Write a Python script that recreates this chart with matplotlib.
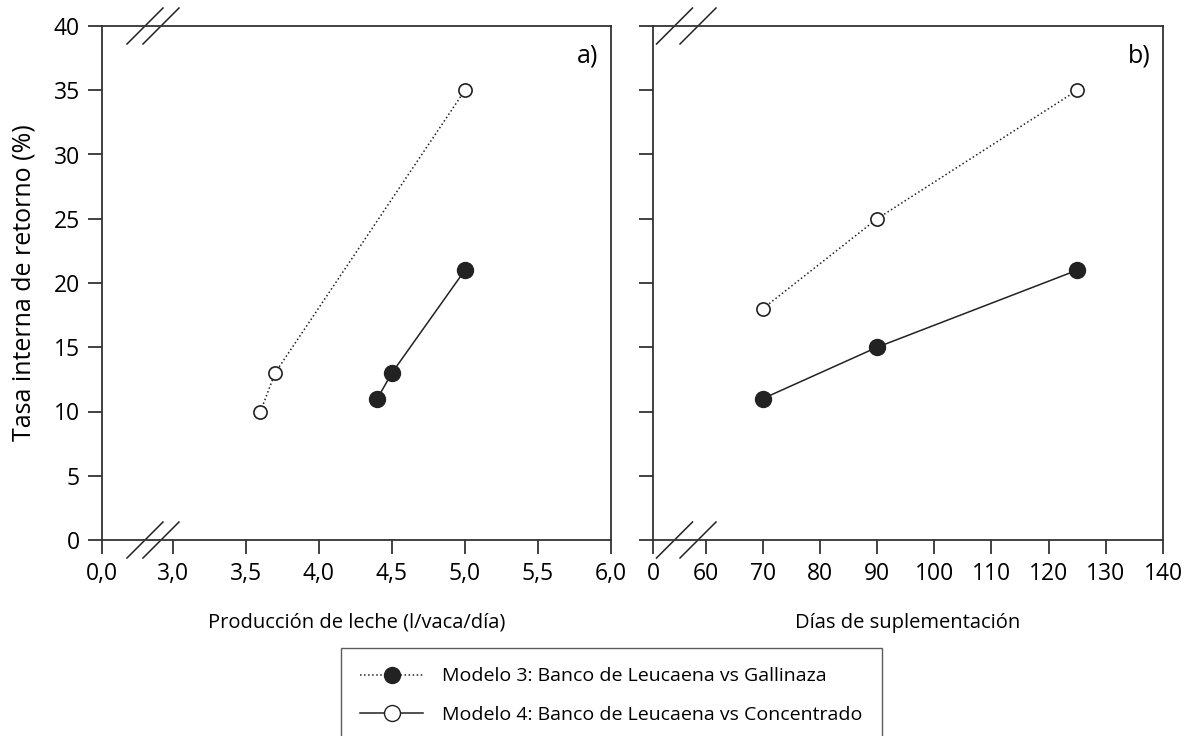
import matplotlib.pyplot as plt
from matplotlib.lines import Line2D

plt.rcParams['font.family'] = ['Open Sans', 'DejaVu Sans']

# panel a) milk production
leche_m4 = [3.6, 3.7, 5.0]
tir_leche_m4 = [10, 13, 35]
leche_m3 = [4.4, 4.5, 5.0]
tir_leche_m3 = [11, 13, 21]

# panel b) days of supplementation
dias = [70, 90, 125]
tir_dias_m4 = [18, 25, 35]
tir_dias_m3 = [11, 15, 21]

xticks_a = [2.515, 3.0, 3.5, 4.0, 4.5, 5.0, 5.5, 6.0]
xlabels_a = ['0,0', '3,0', '3,5', '4,0', '4,5', '5,0', '5,5', '6,0']
xticks_b = [50.8, 60, 70, 80, 90, 100, 110, 120, 130, 140]
xlabels_b = ['0', '60', '70', '80', '90', '100', '110', '120', '130', '140']
yticks = [0, 5, 10, 15, 20, 25, 30, 35, 40]

W, H = 1197, 736
col = '#222222'


def axes_px(x0, x1, ytop, ybot):
    return [x0 / W, 1 - ybot / H, (x1 - x0) / W, (ybot - ytop) / H]


def style(ax):
    for s in ax.spines.values():
        s.set_linewidth(1.3)
        s.set_color('#333333')
    ax.tick_params(direction='out', length=10, width=1.3, color='#333333',
                   labelsize=16.5, pad=6)
    ax.set_ylim(0, 40)
    ax.set_yticks(yticks)


def breaks(ax, xc, half_px):
    bb = ax.get_position()
    wpx = bb.width * W
    hpx = bb.height * H
    dx = half_px / wpx
    dy = half_px / hpx
    for c in xc:
        for y in (0, 1):
            ax.plot([c - dx, c + dx], [y - dy, y + dy], color=col, lw=1.1,
                    transform=ax.transAxes, clip_on=False)


fig = plt.figure(figsize=(W / 100, H / 100), dpi=100)
ax1 = fig.add_axes(axes_px(102, 611, 26, 540))
ax2 = fig.add_axes(axes_px(653, 1163, 26, 540))

for ax in (ax1, ax2):
    style(ax)

ax1.plot(leche_m4, tir_leche_m4, ':', color=col, lw=1.1, marker='o', ms=9.5,
         mfc='white', mec=col, mew=1.2)
ax1.plot(leche_m3, tir_leche_m3, '-', color=col, lw=1.1, marker='o', ms=11.5,
         mfc=col, mec=col)
ax1.set_xlim(2.515, 6.0)
ax1.set_xticks(xticks_a)
ax1.set_xticklabels(xlabels_a)
ax1.set_xlabel('Producción de leche (l/vaca/día)', fontsize=14.5, labelpad=19)
ax1.set_ylabel('Tasa interna de retorno (%)', fontsize=18, labelpad=12)
ax1.text(0.975, 0.965, 'a)', transform=ax1.transAxes, ha='right', va='top',
         fontsize=18)

ax2.plot(dias, tir_dias_m4, ':', color=col, lw=1.1, marker='o', ms=9.5,
         mfc='white', mec=col, mew=1.2)
ax2.plot(dias, tir_dias_m3, '-', color=col, lw=1.1, marker='o', ms=11.5,
         mfc=col, mec=col)
ax2.set_xlim(50.8, 140)
ax2.set_xticks(xticks_b)
ax2.set_xticklabels(xlabels_b)
ax2.set_yticklabels([])
ax2.set_xlabel('Días de suplementación', fontsize=14.5, labelpad=19)
ax2.text(0.975, 0.965, 'b)', transform=ax2.transAxes, ha='right', va='top',
         fontsize=18)

breaks(ax1, [(145 - 102) / 509, (161 - 102) / 509], 18)
breaks(ax2, [(674.5 - 653) / 510, (698 - 653) / 510], 18)

handles = [
    Line2D([], [], ls=':', color=col, lw=1.1, marker='o', ms=11.5,
           mfc=col, mec=col),
    Line2D([], [], ls='-', color=col, lw=1.1, marker='o', ms=11.5,
           mfc='white', mec=col, mew=1.0),
]
labels = ['Modelo 3: Banco de Leucaena vs Gallinaza',
          'Modelo 4: Banco de Leucaena vs Concentrado']
leg = fig.legend(handles, labels, loc='upper left',
                 bbox_to_anchor=(341 / W, 1 - 648 / H), fontsize=14,
                 frameon=True, fancybox=False, edgecolor='#333333',
                 handlelength=3.2, labelspacing=1.05, borderpad=1.0,
                 handletextpad=1.0, borderaxespad=0)
leg.get_frame().set_linewidth(1.0)

fig.savefig('out.png', dpi=100)
